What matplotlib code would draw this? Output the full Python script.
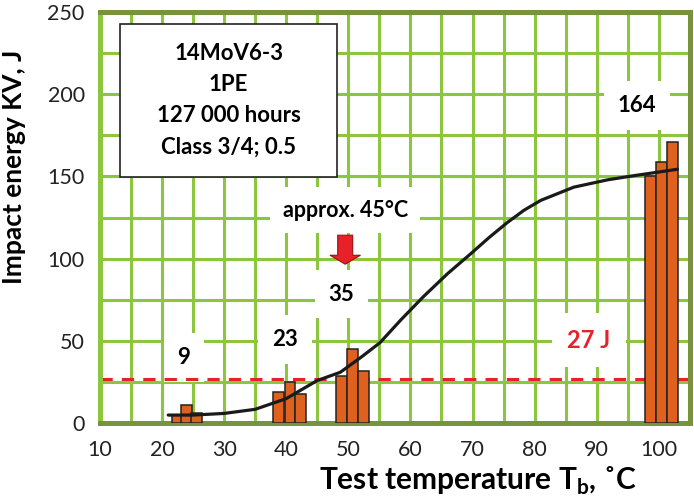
import matplotlib
matplotlib.use("Agg")
import matplotlib.pyplot as plt
from matplotlib.patches import Rectangle, FancyArrowPatch

plt.rcParams['font.family'] = ['Lato', 'DejaVu Sans']
plt.rcParams['mathtext.fontset'] = 'custom'
plt.rcParams['mathtext.rm'] = 'Lato'
plt.rcParams['mathtext.bf'] = 'Lato:bold'

# test temperatures of the individual specimens and their impact energies
temps = [22.4, 24.0, 25.6,
         38.8, 40.6, 42.3,
         48.9, 50.7, 52.5,
         98.6, 100.4, 102.2]
energies = [5, 11, 6,
            19, 25, 18,
            29, 45, 32,
            150, 159, 171]

# fitted transition curve
curve_t = [21, 25, 30, 35, 40, 45, 48.7, 52, 55.1, 58.5, 62.1, 66, 69.7,
           72.7, 75.6, 78.3, 81, 86.3, 91.8, 96, 99.8, 103]
curve_e = [5, 5, 6, 8.5, 15, 26, 31, 40, 49, 63, 77, 91, 103,
           113, 122, 129.5, 135.5, 143.5, 148, 150.5, 152.6, 154.4]

# mean values per group
group_t = [23.5, 39.8, 48.9, 96.5]
group_y = [40, 51, 78.5, 193]
group_labels = ['9', '23', '35', '164']

limit_energy = 27
xticks = [10, 20, 30, 40, 50, 60, 70, 80, 90, 100]
yticks = [0, 50, 100, 150, 200, 250]

light_green = '#8cc63f'
olive = '#77933c'
red = '#e8202a'

fig = plt.figure(figsize=(6.94, 4.98), dpi=100)
ax = fig.add_axes([0.144, 0.150, 0.850, 0.826])

# grid every 5 deg / 25 J
for t in range(10, 106, 5):
    ax.axvline(t, color=light_green, lw=2.2, zorder=0)
for e in range(0, 251, 25):
    ax.axhline(e, color=light_green, lw=2.2, zorder=0)

ax.bar(temps, energies, width=1.75, color='#e0601e', edgecolor='#222222',
       linewidth=1.1, zorder=3)
ax.plot(curve_t, curve_e, color='#1a1a1a', lw=2.3, zorder=4,
        solid_capstyle='round')

ax.axhline(limit_energy, color=red, lw=2.2, dashes=(4, 3), zorder=2)

lbl_box = dict(facecolor='white', edgecolor='none', pad=10)
for t, y, s in zip(group_t, group_y, group_labels):
    ax.text(t, y, s, ha='center', va='center', fontsize=16, fontweight='bold',
            bbox=lbl_box, zorder=1)

ax.text(88.7, 50.5, '27 J', ha='center', va='center', fontsize=17,
        fontweight='bold', color=red, bbox=dict(facecolor='white',
        edgecolor='none', pad=11), zorder=1)
ax.text(49.5, 129.5, 'approx. 45°C', ha='center', va='center', fontsize=15.5,
        fontweight='bold', bbox=dict(facecolor='white', edgecolor='none',
        pad=9), zorder=1)
arrow = FancyArrowPatch((49.5, 116), (49.5, 95),
                        arrowstyle='simple,head_length=0.46,head_width=1.55,tail_width=0.77',
                        mutation_scale=14, facecolor=red, edgecolor='#9a1010',
                        lw=0.8, zorder=6)
ax.add_patch(arrow)

# info box
ax.add_patch(Rectangle((0.034, 0.599), 0.368, 0.372, transform=ax.transAxes,
                       facecolor='white', edgecolor='#222222', lw=1.2, zorder=5))
info = ['14MoV6-3', '1PE', '127 000 hours', 'Class 3/4; 0.5']
for i, line in enumerate(info):
    ax.text(0.218, 0.900 - i * 0.076, line, transform=ax.transAxes,
            ha='center', va='center', fontsize=16, fontweight='bold',
            zorder=6)

ax.set_xlim(10, 105)
ax.set_ylim(0, 250)
ax.set_xticks(xticks)
ax.set_yticks(yticks)
ax.tick_params(length=0, labelsize=15.5, labelcolor='#222222')
ax.tick_params(axis='x', pad=12)
ax.tick_params(axis='y', pad=11)

for side in ['top', 'bottom', 'right']:
    ax.spines[side].set_color(olive)
    ax.spines[side].set_linewidth(3.6)
ax.spines['left'].set_color(light_green)
ax.spines['left'].set_linewidth(3.6)

ax.set_ylabel('Impact energy KV, J', fontsize=19, fontweight='bold')
ax.yaxis.set_label_coords(-0.125, 0.623)
ax.set_xlabel(r'Test temperature T$_\mathbf{b}$, ˚C', fontsize=21.5,
              fontweight='bold')
ax.xaxis.set_label_coords(0.64, -0.1)

fig.savefig('out.png', dpi=100)
